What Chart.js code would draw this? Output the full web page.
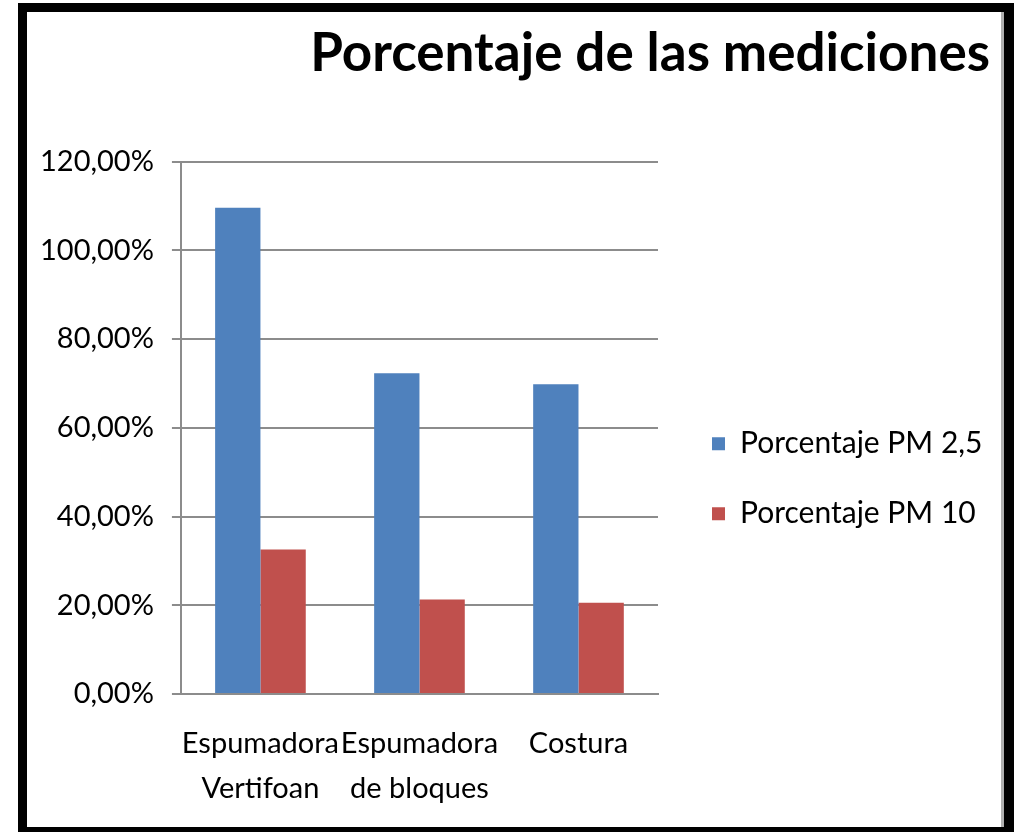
<!DOCTYPE html>
<html>
<head>
<meta charset="utf-8">
<script src="https://cdn.jsdelivr.net/npm/chart.js@4"></script>
<style>
  html, body { margin: 0; padding: 0; background: #fff; }
  body { width: 1014px; height: 832px; position: relative; overflow: hidden; }
  .frame {
    position: absolute; left: 18px; top: 3px; right: 0; bottom: 0;
    border-left: 9px solid #000; border-top: 9px solid #000;
    border-right: 10px solid #000; border-bottom: 5px solid #000;
  }
  .frame-inner {
    position: absolute; left: 0; top: 0; right: 0; bottom: 0;
    border-right: 3px solid #b0b0b0;
  }
  #wrap { position: absolute; left: 0; top: 0; width: 1014px; height: 832px; }
</style>
</head>
<body>
<div class="frame"><div class="frame-inner"></div></div>
<div id="wrap"><canvas id="myChart"></canvas></div>
<script>
// data
const categories = [["Espumadora", "Vertifoan"], ["Espumadora", "de bloques"], ["Costura"]];
const pm25Values = [109.6, 72.3, 69.8];
const pm10Values = [32.6, 21.3, 20.6];
const seriesNames = ["Porcentaje PM 2,5", "Porcentaje PM 10"];
const chartTitle = "Porcentaje de las mediciones";

const FONT = "Lato, 'Open Sans', sans-serif";

const ctx = document.getElementById("myChart").getContext("2d");

new Chart(ctx, {
  type: "bar",
  data: {
    labels: categories,
    datasets: [
      {
        label: seriesNames[0],
        data: pm25Values,
        backgroundColor: "#4F81BD",
        categoryPercentage: 0.57,
        barPercentage: 1.0,
      },
      {
        label: seriesNames[1],
        data: pm10Values,
        backgroundColor: "#C0504D",
        categoryPercentage: 0.57,
        barPercentage: 1.0,
      },
    ],
  },
  options: {
    responsive: true,
    maintainAspectRatio: false,
    animation: false,
    layout: {
      padding: { left: 22, top: 22, right: 24, bottom: -6 },
    },
    plugins: {
      title: {
        display: true,
        text: chartTitle,
        align: "end",
        color: "#000",
        font: { family: FONT, size: 53, weight: "bold" },
        padding: { top: 0, bottom: 76 },
      },
      legend: {
        position: "right",
        fullSize: false,
        maxWidth: 318,
        // empty title just pushes the items down a bit
        title: { display: true, text: " ", font: { size: 18 }, padding: 40 },
        labels: {
          color: "#000",
          font: { family: FONT, size: 30 },
          boxWidth: 13,
          boxHeight: 13,
          padding: 40,
        },
      },
      tooltip: { enabled: false },
    },
    scales: {
      x: {
        grid: { display: false, drawTicks: false },
        border: { color: "#8c8c8c", width: 2 },
        ticks: {
          color: "#000",
          font: { family: FONT, size: 29, lineHeight: 1.55 },
          padding: 27,
          maxRotation: 0,
          autoSkip: false,
        },
      },
      y: {
        min: 0,
        max: 120,
        ticks: {
          stepSize: 20,
          color: "#000",
          font: { family: FONT, size: 29 },
          padding: 18,
          callback: (v) => v.toFixed(2).replace(".", ",") + "%",
        },
        grid: { color: "#8c8c8c", lineWidth: 2, tickLength: 9 },
        border: { color: "#8c8c8c", width: 2 },
      },
      // empty spacer between plot and legend
      gap: {
        position: "right",
        grid: { display: false, drawTicks: false },
        border: { display: false },
        ticks: { display: false },
        afterFit: (scale) => { scale.width = 14; },
      },
    },
  },
});
</script>
</body>
</html>
